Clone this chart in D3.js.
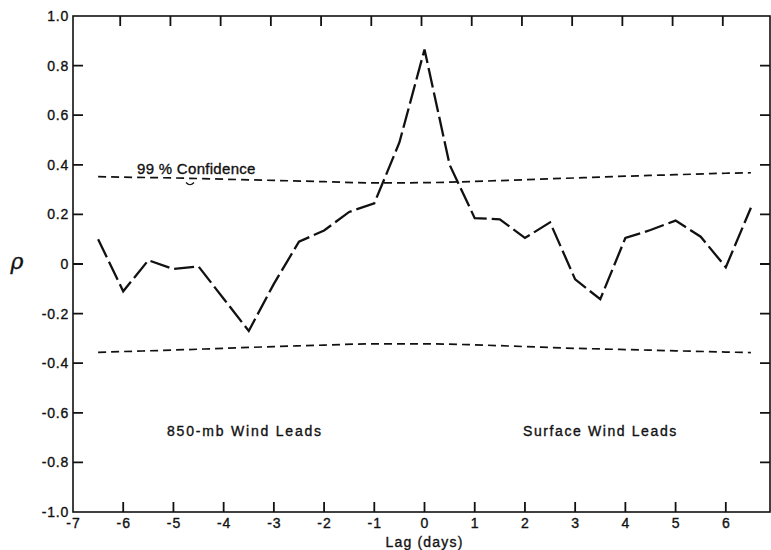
<!DOCTYPE html>
<html>
<head>
<meta charset="utf-8">
<script src="https://cdn.jsdelivr.net/npm/d3@7"></script>
<style>
  html, body { margin: 0; padding: 0; background: #fff; }
  svg { display: block; }
  text { font-family: "Liberation Sans", Arial, sans-serif; fill: #111; stroke: #111; stroke-width: 0.35px; }
</style>
</head>
<body>
<div id="chart"></div>
<script>
// ---- data ----
const lags = [-6.5, -6, -5.5, -5, -4.5, -4, -3.5, -3, -2.5, -2, -1.5, -1, -0.5, 0,
              0.5, 1, 1.5, 2, 2.5, 3, 3.5, 4, 4.5, 5, 5.5, 6, 6.5];
const rho = [0.10, -0.11, 0.015, -0.02, -0.01, -0.14, -0.27, -0.08, 0.09, 0.135, 0.21, 0.245, 0.49, 0.865,
             0.40, 0.185, 0.18, 0.105, 0.168, -0.062, -0.142, 0.105, 0.137, 0.175, 0.11, -0.013, 0.227];
const confLags  = [-6.5, -6, -5, -4, -3, -2, -1, 0, 1, 2, 3, 4, 5, 6, 6.5];
const confUpper = [0.352, 0.350, 0.347, 0.342, 0.337, 0.332, 0.327, 0.328, 0.333, 0.340, 0.347, 0.354, 0.360, 0.366, 0.368];
const confLower = [-0.356, -0.353, -0.347, -0.340, -0.333, -0.327, -0.322, -0.322, -0.326, -0.333, -0.340, -0.345, -0.350, -0.355, -0.357];
const xTicks = [-7, -6, -5, -4, -3, -2, -1, 0, 1, 2, 3, 4, 5, 6];
const xTickLabels = ["-7", "-6", "-5", "-4", "-3", "-2", "-1", "0", "1", "2", "3", "4", "5", "6"];
const yTicks = [1.0, 0.8, 0.6, 0.4, 0.2, 0, -0.2, -0.4, -0.6, -0.8, -1.0];
const yTickLabels = ["1.0", "0.8", "0.6", "0.4", "0.2", "0", "-0.2", "-0.4", "-0.6", "-0.8", "-1.0"];

(function () {
const W = 771, H = 550;
const mLeft = 73, mRight = 770, mTop = 16, mBottom = 512;

const svg = d3.select("#chart").append("svg").attr("width", W).attr("height", H);

const x = d3.scaleLinear().domain([-7, 6.88]).range([mLeft, mRight]);
const y = d3.scaleLinear().domain([-1, 1]).range([mBottom, mTop]);

const ink = "#111";

svg.append("rect")
  .attr("x", mLeft).attr("y", mTop)
  .attr("width", mRight - mLeft).attr("height", mBottom - mTop)
  .attr("fill", "none").attr("stroke", ink).attr("stroke-width", 1.6);

const innerX = xTicks.filter(d => d !== -7);
const innerY = yTicks.filter(d => d !== 1 && d !== -1);

const xb = svg.append("g").attr("transform", `translate(0,${mBottom})`)
  .call(d3.axisBottom(x).tickValues(xTicks).tickSize(0).tickPadding(6)
        .tickFormat((d, i) => xTickLabels[i]));
xb.select(".domain").remove();
xb.selectAll("text").style("font-size", "14px").attr("fill", ink).style("letter-spacing", "1px");

// inward ticks on all four sides
const tickPath = d3.path();
innerX.forEach(d => {
  tickPath.moveTo(x(d), mBottom); tickPath.lineTo(x(d), mBottom - 10);
  tickPath.moveTo(x(d) - 3, mTop); tickPath.lineTo(x(d) - 3, mTop + 10);
});
innerY.forEach(d => {
  tickPath.moveTo(mLeft, y(d)); tickPath.lineTo(mLeft + 10, y(d));
  tickPath.moveTo(mRight, y(d)); tickPath.lineTo(mRight - 10, y(d));
});
svg.append("path").attr("d", tickPath.toString())
  .attr("fill", "none").attr("stroke", ink).attr("stroke-width", 1.8);

const yl = svg.append("g").attr("transform", `translate(${mLeft},0)`)
  .call(d3.axisLeft(y).tickValues(yTicks).tickSize(0).tickPadding(4)
        .tickFormat((d, i) => yTickLabels[i]));
yl.select(".domain").remove();
yl.selectAll("text").style("font-size", "14px").attr("fill", ink).style("letter-spacing", "0.8px");

const lineC = d3.line().x(d => x(d[0])).y(d => y(d[1])).curve(d3.curveMonotoneX);
[confUpper, confLower].forEach(arr => {
  svg.append("path")
    .datum(confLags.map((l, i) => [l, arr[i]]))
    .attr("d", lineC)
    .attr("fill", "none").attr("stroke", ink).attr("stroke-width", 1.7)
    .attr("stroke-dasharray", "8,5");
});

const lineM = d3.line().x(d => x(d[0])).y(d => y(d[1]));
svg.append("path")
  .datum(lags.map((l, i) => [l, rho[i]]))
  .attr("d", lineM)
  .attr("fill", "none").attr("stroke", ink).attr("stroke-width", 2.3)
  .attr("stroke-linejoin", "miter")
  .attr("stroke-dasharray", "20,5");

svg.append("text").attr("x", 137).attr("y", 174)
  .style("font-size", "15px").style("letter-spacing", "0.3px")
  .text("99 % Confidence");
const p = d3.path();
p.moveTo(186, 182.5);
p.quadraticCurveTo(190, 187, 194, 182.5);
svg.append("path").attr("d", p.toString()).attr("fill", "none").attr("stroke", ink).attr("stroke-width", 1.2);

svg.append("text").attr("x", 167).attr("y", 436)
  .style("font-size", "14px").style("letter-spacing", "1.8px")
  .text("850-mb Wind Leads");
svg.append("text").attr("x", 523).attr("y", 436)
  .style("font-size", "14px").style("letter-spacing", "1.6px")
  .text("Surface Wind Leads");

svg.append("text").attr("x", x(0)).attr("y", 547).attr("text-anchor", "middle")
  .style("font-size", "14px").style("letter-spacing", "1.2px")
  .text("Lag (days)");

svg.append("text").attr("x", 17).attr("y", 269).attr("text-anchor", "middle")
  .style("font-size", "22px").style("font-style", "italic")
  .style("font-family", "'DejaVu Serif', serif")
  .text("ρ");
})();
</script>
</body>
</html>
